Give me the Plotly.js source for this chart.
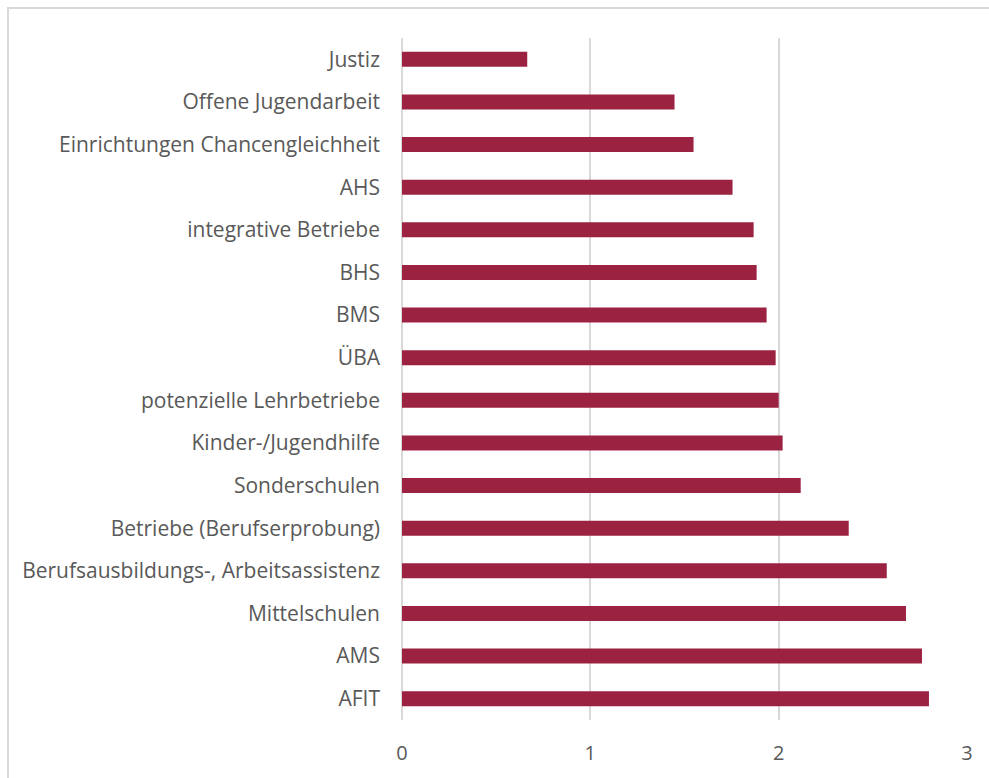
<!DOCTYPE html>
<html>
<head>
<meta charset="utf-8">
<script src="https://cdn.plot.ly/plotly-3.0.1.min.js"></script>
<style>
  html, body { margin: 0; padding: 0; overflow: hidden; background: #fff; }
  #frame { position: absolute; left: 7px; top: 7px; width: 1200px; height: 1000px; border: 2px solid #d9d9d9; box-sizing: border-box; }
  #chart { position: absolute; left: 0; top: 0; width: 989px; height: 778px; }
</style>
</head>
<body>
<div id="frame"></div>
<div id="chart"></div>
<script>
const categories = [
  "Justiz",
  "Offene Jugendarbeit",
  "Einrichtungen Chancengleichheit",
  "AHS",
  "integrative Betriebe",
  "BHS",
  "BMS",
  "ÜBA",
  "potenzielle Lehrbetriebe",
  "Kinder-/Jugendhilfe",
  "Sonderschulen",
  "Betriebe (Berufserprobung)",
  "Berufsausbildungs-, Arbeitsassistenz",
  "Mittelschulen",
  "AMS",
  "AFIT"
];
const values = [0.665, 1.447, 1.548, 1.755, 1.867, 1.883, 1.936, 1.984, 2.0, 2.021, 2.117, 2.372, 2.574, 2.676, 2.761, 2.798];
const xTicks = [0, 1, 2, 3];

const trace = {
  type: "bar",
  orientation: "h",
  x: values,
  y: categories,
  marker: { color: "#9C2242", line: { width: 0 } },
  hoverinfo: "x+y"
};

const layout = {
  width: 989,
  height: 778,
  paper_bgcolor: "rgba(0,0,0,0)",
  plot_bgcolor: "rgba(0,0,0,0)",
  margin: { l: 402, r: 22, t: 38, b: 58 },
  bargap: 0.65,
  showlegend: false,
  font: { family: "Open Sans, sans-serif", size: 21, color: "#595959" },
  xaxis: {
    range: [0, 3],
    tickvals: xTicks,
    ticktext: xTicks.map(String),
    showgrid: true,
    gridcolor: "#d9d9d9",
    gridwidth: 2,
    zeroline: true,
    zerolinecolor: "#d9d9d9",
    zerolinewidth: 2,
    showline: false,
    ticks: "",
    ticklabelstandoff: 19,
    tickfont: { size: 20, color: "#595959" }
  },
  yaxis: {
    type: "category",
    autorange: "reversed",
    showgrid: false,
    zeroline: false,
    showline: false,
    ticks: "",
    ticklabelstandoff: 21,
    tickfont: { size: 21, color: "#595959" }
  }
};

Plotly.newPlot("chart", [trace], layout, { displayModeBar: false, staticPlot: true });
</script>
</body>
</html>
